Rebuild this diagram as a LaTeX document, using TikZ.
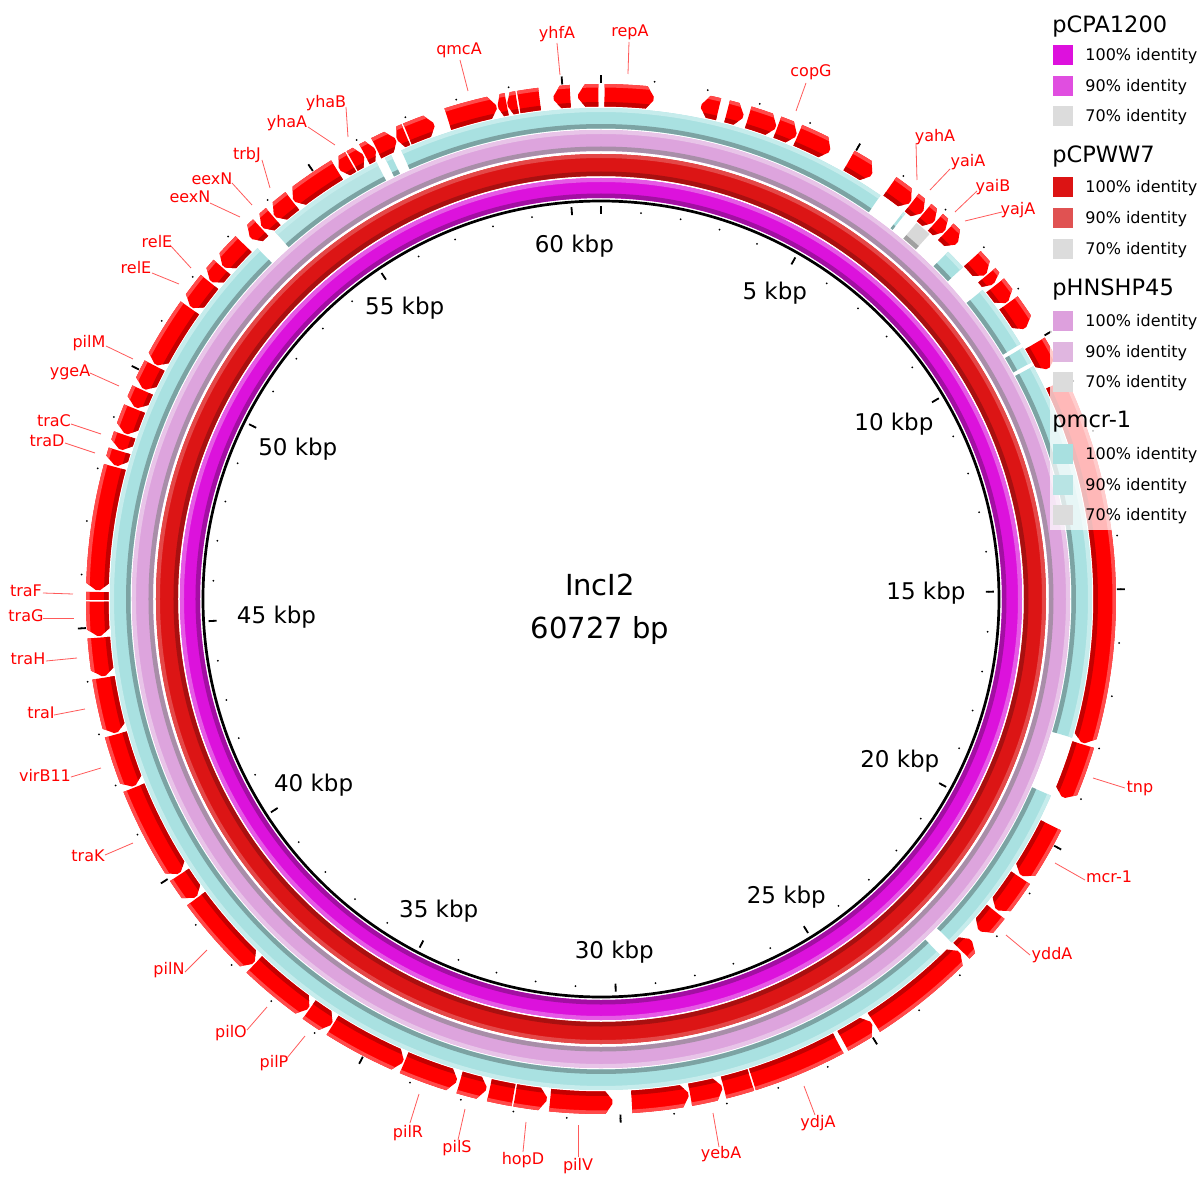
\documentclass[tikz,border=0pt]{standalone}
\usepackage{fontspec}
\setmainfont{DejaVu Sans}
\definecolor{magmain}{HTML}{DC12DC}
\definecolor{magdark}{HTML}{A20FA2}
\definecolor{maglight}{HTML}{E55AE5}
\definecolor{redmain}{HTML}{DC1515}
\definecolor{reddark}{HTML}{A81010}
\definecolor{redlight}{HTML}{E44848}
\definecolor{pinkmain}{HTML}{DDA4DD}
\definecolor{pinkdark}{HTML}{A88EA8}
\definecolor{pinklight}{HTML}{E8C4E8}
\definecolor{cyanmain}{HTML}{A9E1E1}
\definecolor{cyanninety}{HTML}{B7E4E4}
\definecolor{cyandark}{HTML}{7CA3A3}
\definecolor{cyanlight}{HTML}{C6ECEC}
\definecolor{graymain}{HTML}{D8D8D8}
\definecolor{graydark}{HTML}{A0A0A0}
\definecolor{genemain}{HTML}{FF0000}
\definecolor{genedark}{HTML}{C40000}
\definecolor{genelight}{HTML}{FF4A4A}
\definecolor{glinecol}{HTML}{FF5A5A}
\definecolor{legmagA}{HTML}{DD11DD}
\definecolor{legmagB}{HTML}{E04EE0}
\definecolor{legredA}{HTML}{DC1414}
\definecolor{legredB}{HTML}{E05252}
\definecolor{legpinkA}{HTML}{DDA0DD}
\definecolor{legpinkB}{HTML}{E0B6E0}
\definecolor{legcyanA}{HTML}{A8E0E0}
\definecolor{legcyanB}{HTML}{B8E4E4}
\definecolor{leggray}{HTML}{DCDCDC}

\newcommand\arcseg[4]{(#1:#4) arc[start angle=#1,end angle=#2,radius=#4] -- (#2:#3) arc[start angle=#2,end angle=#1,radius=#3] -- cycle}
\newcommand\fullring[5]{%
  \fill[#3,even odd rule] (0,0) circle[radius=#2] circle[radius=#1];
  \fill[#4,even odd rule] (0,0) circle[radius=#1+4.5] circle[radius=#1];
  \fill[#5,even odd rule] (0,0) circle[radius=#2] circle[radius=#2-4];}
\newcommand\cyanseg[3][cyanmain]{%
  \fill[#1] \arcseg{#2}{#3}{470.5}{491};
  \fill[cyandark] \arcseg{#2}{#3}{470.5}{475};
  \fill[cyanlight] \arcseg{#2}{#3}{487}{491};}
\newcommand\gene[3]{%
  \begin{scope}
  \pgfmathsetmacro\hl{min(0.8,0.45*((#1)-(#2)))}%
  \ifcase#3\relax
    \clip \arcseg{#1}{#2}{492.5}{515};
  \or
    \clip (#1:515) arc[start angle=#1,end angle=#2+\hl,radius=515] -- (#2:505) -- (#2:501) -- (#2+\hl:492.5) arc[start angle=#2+\hl,end angle=#1,radius=492.5] -- cycle;
  \or
    \clip (#1:505) -- (#1-\hl:515) arc[start angle=#1-\hl,end angle=#2,radius=515] -- (#2:492.5) arc[start angle=#2,end angle=#1-\hl,radius=492.5] -- (#1:501) -- cycle;
  \fi
  \fill[genemain] \arcseg{#1+1.5}{#2-1.5}{488}{518};
  \fill[genedark] \arcseg{#1+1.5}{#2-1.5}{488}{497};
  \fill[genelight] \arcseg{#1+1.5}{#2-1.5}{511.5}{518};
  \end{scope}}
\newcommand\glabel[5]{%
  \node[glab] (L#1) at (#2) {#3};
  \coordinate (S#1) at (#4);
  \coordinate (E#1) at (#5);
  \draw[gline] (S#1) -- (E#1);}

\tikzset{
  glab/.style={text=genemain, font=\fontsize{8}{9}\selectfont, inner sep=0.5pt},
  gline/.style={draw=glinecol, line width=0.4pt},
  kbplab/.style={font=\fontsize{11.5}{13}\selectfont, inner sep=0.5pt},
  legtitle/.style={font=\fontsize{11.25}{13}\selectfont, anchor=west, inner sep=0pt},
  legitem/.style={font=\fontsize{8}{9}\selectfont, anchor=west, inner sep=0pt},
}

\begin{document}
\begin{tikzpicture}[x=0.5pt,y=0.5pt]
\useasboundingbox (-601,-601) rectangle (599,599);
\fill[white] (-601,-601) rectangle (599,599);

% ---- backbone circle
\draw[black, line width=1.35pt] (0,0) circle[radius=398];

% ---- identity rings
\fullring{401}{421}{magmain}{magdark}{maglight}
\fullring{423}{445}{redmain}{reddark}{redlight}
\fullring{448}{469}{pinkmain}{pinkdark}{pinklight}

% cyan ring (pmcr-1)
\cyanseg{313.6}{134.4}
\cyanseg{336.4}{315.6}
\cyanseg{28.3}{-16.4}
\cyanseg{30.8}{28.8}
\cyanseg{39.0}{31.3}
\cyanseg{45.0}{42.5}
\fill[graymain] \arcseg{50.0}{48.0}{470.5}{491};
\fill[graydark] \arcseg{50.0}{48.0}{470.5}{475};
\cyanseg{52.0}{51.7}
\cyanseg{114.0}{55.3}
\cyanseg{116.1}{115.3}
\cyanseg[cyanninety]{131.6}{117.2}

% ---- genes
\gene{89.6}{84.0}{1}
\gene{92.6}{90.3}{2}
\gene{95.4}{93.5}{2}
\gene{99.4}{97.0}{0}
\gene{100.7}{99.6}{2}
\gene{101.8}{100.8}{2}
\gene{107.7}{102.0}{1}
\gene{112.6}{109.4}{1}
\gene{113.9}{112.8}{2}
\gene{116.5}{114.1}{1}
\gene{118.0}{116.7}{1}
\gene{119.6}{118.2}{1}
\gene{121.3}{119.8}{2}
\gene{127.6}{121.6}{2}
\gene{130.4}{127.8}{2}
\gene{132.3}{130.6}{2}
\gene{134.1}{132.5}{2}
\gene{138.6}{135.2}{2}
\gene{140.8}{138.8}{2}
\gene{144.5}{141.0}{2}
\gene{152.2}{144.7}{2}
\gene{155.3}{152.4}{2}
\gene{157.6}{155.5}{2}
\gene{160.8}{157.8}{2}
\gene{162.7}{161.0}{2}
\gene{164.6}{162.9}{2}
\gene{179.0}{164.8}{2}
\gene{180.1}{179.2}{0}
\gene{184.2}{180.3}{2}
\gene{188.8}{184.4}{2}
\gene{195.4}{189.0}{2}
\gene{201.8}{195.6}{2}
\gene{213.0}{202.0}{2}
\gene{216.3}{213.2}{2}
\gene{226.3}{216.5}{2}
\gene{234.4}{226.5}{2}
\gene{237.6}{234.6}{2}
\gene{246.8}{237.8}{2}
\gene{253.3}{247.0}{2}
\gene{256.8}{253.7}{2}
\gene{260.0}{257.2}{0}
\gene{263.8}{260.2}{2}
\gene{271.3}{264.2}{2}
\gene{280.0}{273.5}{2}
\gene{283.9}{280.2}{2}
\gene{287.3}{284.1}{0}
\gene{298.1}{287.5}{0}
\gene{302.5}{298.7}{2}
\gene{315.4}{302.8}{2}
\gene{317.3}{315.7}{2}
\gene{321.6}{318.8}{1}
\gene{326.4}{321.9}{1}
\gene{333.3}{326.7}{1}
\gene{-16.8}{-23.2}{1}
\gene{25.3}{-16.6}{1}
\gene{30.5}{27.3}{1}
\gene{36.0}{32.6}{1}
\gene{38.5}{36.2}{1}
\gene{40.0}{38.8}{1}
\gene{42.5}{40.2}{1}
\gene{46.8}{45.0}{1}
\gene{48.4}{47.0}{1}
\gene{50.1}{48.6}{1}
\gene{51.9}{50.3}{1}
\gene{55.0}{52.1}{1}
\gene{60.5}{57.5}{1}
\gene{67.0}{63.0}{1}
\gene{69.5}{67.2}{1}
\gene{73.0}{69.7}{1}
\gene{75.5}{73.6}{1}
\gene{78.5}{76.5}{2}

% ---- scale ticks
\foreach \k in {0,...,60}{
  \pgfmathsetmacro\a{90-\k*5.92817}
  \fill (\a:388) circle[radius=1];
  \fill (\a:520) circle[radius=1];
}
\foreach \k in {0,5,...,60}{
  \pgfmathsetmacro\a{90-\k*5.92817}
  \draw[line width=0.9pt] (\a:385) -- (\a:393);
  \draw[line width=0.9pt] (\a:516) -- (\a:524);
}
\foreach \k in {5,10,...,60}{
  \pgfmathsetmacro\a{mod(90-\k*5.92817+720,360)}
  \node[kbplab, anchor=\a] (kb\k) at (\a:366) {\k\ kbp};
}

% ---- centre title
\node[align=center, font=\fontsize{14.5}{21.5}\selectfont, inner sep=0pt] (title) at (-1,-10.5) {IncI2\\60727 bp};

% ---- gene labels
\glabel{qmcA}{-142,549}{qmcA}{-141,539}{-133,508}
\glabel{yhfA}{-44,565}{yhfA}{-44,556}{-41,524}
\glabel{repA}{29,567}{repA}{28,557}{27,525}
\glabel{copG}{210,527}{copG}{205,516}{195,488}
\glabel{yahA}{334,462}{yahA}{315,456}{316,419}
\glabel{yaiA}{367,437}{yaiA}{349,430}{329,409}
\glabel{yaiB}{392,412}{yaiB}{376,408}{354,387}
\glabel{yajA}{417,389}{yajA}{401,387}{364,378}
\glabel{tnp}{539,-190}{tnp}{524,-189}{492,-179}
\glabel{mcr}{508,-278}{mcr-1}{484,-281}{454,-264}
\glabel{yddA}{451,-356}{yddA}{429,-356}{405,-336}
\glabel{ydjA}{217,-524}{ydjA}{214,-516}{203,-487}
\glabel{yebA}{120,-555}{yebA}{118,-548}{112,-514}
\glabel{pilV}{-23,-567}{pilV}{-23,-558}{-23,-526}
\glabel{hopD}{-78,-561}{hopD}{-78,-553}{-75,-523}
\glabel{pilS}{-144,-549}{pilS}{-143,-541}{-136,-510}
\glabel{pilR}{-193,-534}{pilR}{-191,-524}{-182,-495}
\glabel{pilP}{-327,-464}{pilP}{-314,-459}{-296,-437}
\glabel{pilO}{-370,-434}{pilO}{-354,-431}{-334,-408}
\glabel{pilN}{-432,-371}{pilN}{-416,-373}{-394,-351}
\glabel{traK}{-513,-257}{traK}{-496,-256}{-468,-244}
\glabel{virB}{-556,-176}{virB11}{-530,-178}{-500,-169}
\glabel{traI}{-560,-114}{traI}{-547,-116}{-516,-110}
\glabel{traH}{-573,-60}{traH}{-555,-62}{-524,-59}
\glabel{traG}{-575,-17}{traG}{-558,-19}{-527,-19}
\glabel{traF}{-575,8}{traF}{-558,6}{-528,5}
\glabel{traD}{-554,158}{traD}{-536,156}{-506,146}
\glabel{traC}{-547,178}{traC}{-530,175}{-500,165}
\glabel{ygeA}{-531,227}{ygeA}{-511,226}{-482,213}
\glabel{pilM}{-512,256}{pilM}{-495,253}{-468,240}
\glabel{relEb}{-465,331}{relE}{-449,326}{-422,315}
\glabel{relEa}{-444,357}{relE}{-431,354}{-410,331}
\glabel{eexNb}{-411,402}{eexN}{-391,396}{-361,382}
\glabel{eexNa}{-389,420}{eexN}{-369,416}{-349,394}
\glabel{trbJ}{-354,444}{trbJ}{-339,439}{-331,411}
\glabel{yhaA}{-314,476}{yhaA}{-293,472}{-266,454}
\glabel{yhaB}{-275,496}{yhaB}{-255,492}{-253,462}

% ---- legend
\fill[white, opacity=0.72] (449,69) rectangle (599,599);
\node[legtitle] (lg1) at (451,573) {pCPA1200};
\fill[legmagA] (452,534) rectangle (472,554);
\node[legitem] (lg1a) at (484,543) {100\% identity};
\fill[legmagB] (452,503) rectangle (472,523);
\node[legitem] (lg1b) at (484,512) {90\% identity};
\fill[leggray] (452,473) rectangle (472,493);
\node[legitem] (lg1c) at (484,482) {70\% identity};

\node[legtitle] (lg2) at (451,443) {pCPWW7};
\fill[legredA] (452,402) rectangle (472,422);
\node[legitem] (lg2a) at (484,411) {100\% identity};
\fill[legredB] (452,371) rectangle (472,391);
\node[legitem] (lg2b) at (484,380) {90\% identity};
\fill[leggray] (452,340) rectangle (472,360);
\node[legitem] (lg2c) at (484,349) {70\% identity};

\node[legtitle] (lg3) at (451,310) {pHNSHP45};
\fill[legpinkA] (452,268) rectangle (472,288);
\node[legitem] (lg3a) at (484,277) {100\% identity};
\fill[legpinkB] (452,237) rectangle (472,257);
\node[legitem] (lg3b) at (484,246) {90\% identity};
\fill[leggray] (452,207) rectangle (472,227);
\node[legitem] (lg3c) at (484,216) {70\% identity};

\node[legtitle] (lg4) at (451,177) {pmcr-1};
\fill[legcyanA] (452,135) rectangle (472,155);
\node[legitem] (lg4a) at (484,144) {100\% identity};
\fill[legcyanB] (452,104) rectangle (472,124);
\node[legitem] (lg4b) at (484,113) {90\% identity};
\fill[leggray] (452,74) rectangle (472,94);
\node[legitem] (lg4c) at (484,83) {70\% identity};
\end{tikzpicture}
\end{document}
